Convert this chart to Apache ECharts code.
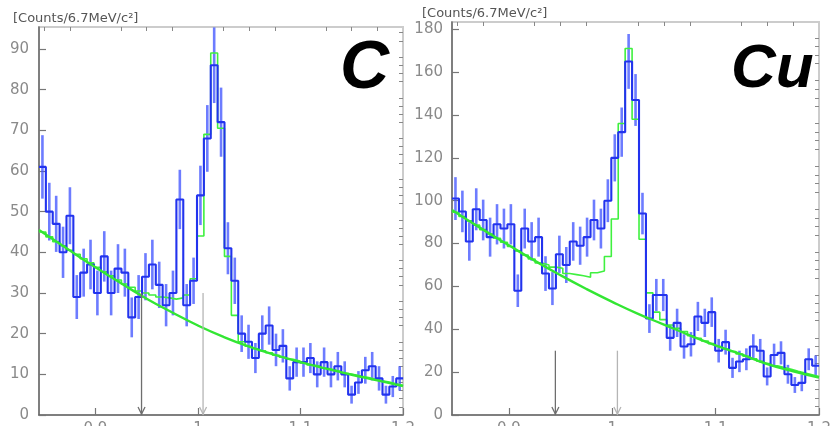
<!DOCTYPE html>
<html><head><meta charset="utf-8">
<script src="https://cdn.jsdelivr.net/npm/echarts@6/dist/echarts.min.js"></script>
<style>html,body{margin:0;padding:0;background:#fff}#c{width:840px;height:426px}</style>
</head><body><div id="c"></div>
<script>
// ---- binning (6.7 MeV/c^2 bins) ----
const X_MIN = 0.845, X_MAX = 1.2, BIN = 0.0067;
const xMajorTicks = [0.9, 1.0, 1.1, 1.2];
const xMinorTicks = [0.85, 0.875, 0.925, 0.95, 0.975, 1.025, 1.05, 1.075, 1.125, 1.15, 1.175];

// ---- C target ----
const cYMax = 95.4;
const cYMajor = [0, 10, 20, 30, 40, 50, 60, 70, 80, 90];
const cYMinor = [2,4,6,8,12,14,16,18,22,24,26,28,32,34,36,38,42,44,46,48,52,54,56,58,62,64,66,68,72,74,76,78,82,84,86,88,92,94];
const cCounts = [61,50,47,40,49,29,35,37,30,39,30,36,35,24,29,34,37,32,27,30,53,27,33,54,68,86,72,41,33,20,18,14,20,22,16,17,9,13,13,14,10,13,10,12,10,5,8,11,12,9,5,7,9];
const cErrors = [7.8,7.1,6.9,6.3,7.0,5.4,5.9,6.1,5.5,6.2,5.5,6.0,5.9,4.9,5.4,5.8,6.1,5.7,5.2,5.5,7.3,5.2,5.7,7.3,8.2,9.3,8.5,6.4,5.7,4.5,4.2,3.7,4.5,4.7,4.0,4.1,3.0,3.6,3.6,3.7,3.2,3.6,3.2,3.5,3.2,2.2,2.8,3.3,3.5,3.0,2.2,2.6,3.0];
const cFit = [45,43.8,42.6,41.6,40.5,39.5,38.4,37.4,36.3,35.2,34.2,33.2,32.2,31.4,30.5,30,29.5,29,28.8,28.5,28.8,29.5,33.5,44,69,89,70.5,39,24.5,18,16.9,16.3,15.8,15.3,14.7,14.2,13.7,13.3,12.8,12.3,12,11.5,11.1,10.7,10.2,9.9,9.5,9.2,8.8,8.4,8.1,7.7,7.3];
const cBg = [[0.845,45.5],[0.87,41.3],[0.9,36.3],[0.925,32.4],[0.95,28.6],[0.975,25.2],[1.0,22.0],[1.025,19.2],[1.05,16.8],[1.075,14.8],[1.1,13.0],[1.125,11.4],[1.15,9.9],[1.175,8.5],[1.2,7.1]];

// ---- Cu target ----
const cuYMax = 183.4;
const cuYMajor = [0, 20, 40, 60, 80, 100, 120, 140, 160, 180];
const cuYMinor = [4,8,12,16,24,28,32,36,44,48,52,56,64,68,72,76,84,88,92,96,104,108,112,116,124,128,132,136,144,148,152,156,164,168,172,176];
const cuCounts = [101,95,81,96,91,83,89,87,89,58,87,81,83,66,59,75,70,81,79,83,91,87,100,120,132,165,147,94,45,56,56,36,43,32,33,46,43,48,30,34,22,25,26,32,30,18,28,29,19,14,15,26,23];
const cuErrors = [10.0,9.7,9.0,9.8,9.5,9.1,9.4,9.3,9.4,7.6,9.3,9.0,9.1,8.1,7.7,8.7,8.4,9.0,8.9,9.1,9.5,9.3,10.0,11.0,11.5,12.8,12.1,9.7,6.7,7.5,7.5,6.0,6.6,5.7,5.7,6.8,6.6,6.9,5.5,5.8,4.7,5.0,5.1,5.7,5.5,4.2,5.3,5.4,4.4,3.7,3.9,5.1,4.8];
const cuFit = [94.6,92.6,90.6,88.6,86.5,84.5,82.5,80.6,78.6,76.6,74.7,72.8,70.9,70,69,68.5,66,65.5,65,64.3,66.4,67.2,74,91.5,136,171,138,82,57,48,44.5,42,40.5,39,37,35.8,34.5,33.3,32,30.8,29.6,28.5,27.4,26.2,25.1,24,23,22.2,21.3,20.4,19.6,18.8,18];
const cuBg = [[0.845,95.7],[0.875,86.5],[0.9,79.2],[0.925,72],[0.95,65.2],[0.975,58.8],[1.0,52.8],[1.025,47.2],[1.05,42.2],[1.075,37.2],[1.1,32.5],[1.125,28.3],[1.15,23.8],[1.175,20.4],[1.2,17.5]];

// ---- arrows (cut positions) ----
const arrowX = [0.945, 1.005];
const arrowTop = 30;

// ---- helpers ----
function stepData(counts) {
  const d = [];
  counts.forEach((v, i) => { const lo = X_MIN + i * BIN; d.push([lo, v], [lo + BIN, v]); });
  return d;
}
function errData(counts, errs) {
  return counts.map((v, i) => [X_MIN + (i + 0.5) * BIN, v, errs[i]]);
}

const FONT = 'DejaVu Sans';
const LABEL_COLOR = '#8a8a8a';

function xAxes(g) {
  return [
    { gridIndex: g, type: 'value', min: X_MIN, max: X_MAX,
      axisLine: { show: true, onZero: false, lineStyle: { color: '#666', width: 1.5 } },
      axisTick: { show: true, inside: true, length: 7, customValues: xMajorTicks, lineStyle: { color: '#777', width: 1.2 } },
      axisLabel: { show: true, customValues: xMajorTicks, margin: 7, fontSize: 15, fontFamily: FONT, color: LABEL_COLOR,
        showMinLabel: true, showMaxLabel: true, formatter: v => String(+v.toFixed(2)) },
      splitLine: { show: false } },
    { gridIndex: g, type: 'value', min: X_MIN, max: X_MAX,
      axisLine: { show: false, onZero: false },
      axisTick: { show: true, inside: true, length: 4, customValues: xMinorTicks, lineStyle: { color: '#888', width: 1 } },
      axisLabel: { show: false }, splitLine: { show: false } }
  ];
}
function yAxes(g, ymax, major, minor, margin) {
  return [
    { gridIndex: g, type: 'value', min: 0, max: ymax,
      axisLine: { show: true, onZero: false, lineStyle: { color: '#666', width: 1.5 } },
      axisTick: { show: true, inside: true, length: 7, customValues: major, lineStyle: { color: '#777', width: 1.2 } },
      axisLabel: { show: true, customValues: major, margin: margin, fontSize: 15, fontFamily: FONT, color: LABEL_COLOR,
        showMinLabel: true, showMaxLabel: true },
      splitLine: { show: false } },
    { gridIndex: g, type: 'value', min: 0, max: ymax,
      axisLine: { show: false, onZero: false },
      axisTick: { show: true, inside: true, length: 4, customValues: minor, lineStyle: { color: '#888', width: 1 } },
      axisLabel: { show: false }, splitLine: { show: false } }
  ];
}

function panelSeries(g, counts, errs, fit, bg) {
  const ax = { xAxisIndex: g * 2, yAxisIndex: g * 2 };
  return [
    Object.assign({ type: 'custom', clip: true, silent: true, z: 2,
      data: errData(counts, errs),
      renderItem: (params, api) => {
        const x = api.value(0), v = api.value(1), e = api.value(2);
        const p1 = api.coord([x, v - e]), p2 = api.coord([x, v + e]);
        return { type: 'line', shape: { x1: p1[0], y1: p1[1], x2: p2[0], y2: p2[1] },
          style: { stroke: 'rgba(60,80,255,0.75)', lineWidth: 2.6 } };
      } }, ax),
    Object.assign({ type: 'line', data: stepData(fit), showSymbol: false, silent: true, clip: true, z: 3,
      lineStyle: { color: '#3ff03f', width: 1.6 } }, ax),
    Object.assign({ type: 'line', data: stepData(counts), showSymbol: false, silent: true, clip: true, z: 4,
      lineStyle: { color: '#2233ee', width: 2.1 } }, ax),
    Object.assign({ type: 'line', data: bg, smooth: true, showSymbol: false, silent: true, clip: true, z: 5,
      lineStyle: { color: '#33e633', width: 2.4 } }, ax),
    Object.assign({ type: 'custom', silent: true, z: 6,
      data: arrowX.map((x, k) => [x, arrowTop, k]),
      renderItem: (params, api) => {
        const t = api.coord([api.value(0), api.value(1)]);
        const b = api.coord([api.value(0), 0]);
        const col = api.value(2) === 0 ? '#6e6e6e' : '#b5b5b5';
        return { type: 'group', children: [
          { type: 'line', shape: { x1: t[0], y1: t[1], x2: b[0], y2: b[1] }, style: { stroke: col, lineWidth: 1.3 } },
          { type: 'polyline', shape: { points: [[b[0] - 3.5, b[1] - 8], [b[0], b[1] - 1], [b[0] + 3.5, b[1] - 8]] },
            style: { stroke: col, fill: null, lineWidth: 1.3 } }
        ] };
      } }, ax)
  ];
}

const chart = echarts.init(document.getElementById('c'), null, { renderer: 'canvas' });
chart.setOption({
  animation: false,
  backgroundColor: '#ffffff',
  grid: [
    { left: 39, top: 27, width: 364, height: 388, show: true, borderColor: '#cccccc', borderWidth: 2, backgroundColor: 'transparent', containLabel: false, outerBoundsMode: 'none' },
    { left: 452, top: 22, width: 367, height: 393, show: true, borderColor: '#cccccc', borderWidth: 2, backgroundColor: 'transparent', containLabel: false, outerBoundsMode: 'none' }
  ],
  xAxis: [...xAxes(0), ...xAxes(1)],
  yAxis: [...yAxes(0, cYMax, cYMajor, cYMinor, 10), ...yAxes(1, cuYMax, cuYMajor, cuYMinor, 9)],
  series: [...panelSeries(0, cCounts, cErrors, cFit, cBg), ...panelSeries(1, cuCounts, cuErrors, cuFit, cuBg)],
  graphic: [
    { type: 'text', left: 13, top: 12, silent: true, style: { text: '[Counts/6.7MeV/c²]', font: '13px "DejaVu Sans"', fill: '#555' } },
    { type: 'text', left: 422, top: 7, silent: true, style: { text: '[Counts/6.7MeV/c²]', font: '13px "DejaVu Sans"', fill: '#555' } },
    { type: 'text', left: 340, top: 35, silent: true, style: { text: 'C', font: 'italic bold 68px "Liberation Sans"', fill: '#000' } },
    { type: 'text', left: 731, top: 39, silent: true, style: { text: 'Cu', font: 'italic bold 62px "Liberation Sans"', fill: '#000' } }
  ]
});
</script></body></html>
